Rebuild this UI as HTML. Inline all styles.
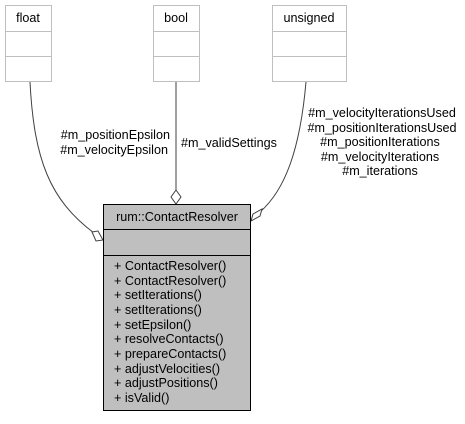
<!DOCTYPE html>
<html><head><style>
html,body{margin:0;padding:0;background:#fff;}
svg text{font-family:"Liberation Sans",Arial,sans-serif;font-size:12.6px;fill:#000;}
</style></head><body>
<svg width="465" height="419" viewBox="0 0 465 419" xmlns="http://www.w3.org/2000/svg">
<g fill="#fff" stroke="#bfbfbf" stroke-width="1">
<rect x="5.5" y="5.5" width="46" height="76"/><line x1="5.5" y1="31.5" x2="51.5" y2="31.5"/><line x1="5.5" y1="56.5" x2="51.5" y2="56.5"/>
<rect x="153.5" y="5.5" width="46" height="76"/><line x1="153.5" y1="31.5" x2="199.5" y2="31.5"/><line x1="153.5" y1="56.5" x2="199.5" y2="56.5"/>
<rect x="272.5" y="5.5" width="74" height="76"/><line x1="272.5" y1="31.5" x2="346.5" y2="31.5"/><line x1="272.5" y1="56.5" x2="346.5" y2="56.5"/>
</g>
<text x="28" y="22" text-anchor="middle">float</text>
<text x="176" y="22" text-anchor="middle">bool</text>
<text x="309" y="22" text-anchor="middle">unsigned</text>
<g fill="none" stroke="#404040" stroke-width="1">
<path d="M30,82 C34,160 50,200 94,233"/>
<path d="M176,82 L176,190"/>
<path d="M306,82 C300,150 285,190 260,212"/>
</g>
<g fill="#fff" stroke="#404040" stroke-width="1">
<polygon points="176,190 181,197 176,204 171,197"/>
<polygon points="92,232 98,231 103,240 96,241"/>
<polygon points="262,209 260,216 251,221 253,214"/>
</g>
<rect x="103.5" y="204.5" width="147" height="206" fill="#bfbfbf" stroke="#000"/>
<line x1="103.5" y1="229.5" x2="250.5" y2="229.5" stroke="#000"/>
<line x1="103.5" y1="255.5" x2="250.5" y2="255.5" stroke="#000"/>
<text x="177" y="221" text-anchor="middle">rum::ContactResolver</text>
<g>
<text x="114" y="270">+ ContactResolver()</text>
<text x="114" y="285">+ ContactResolver()</text>
<text x="114" y="299">+ setIterations()</text>
<text x="114" y="314">+ setIterations()</text>
<text x="114" y="329">+ setEpsilon()</text>
<text x="114" y="343">+ resolveContacts()</text>
<text x="114" y="358">+ prepareContacts()</text>
<text x="114" y="373">+ adjustVelocities()</text>
<text x="114" y="387">+ adjustPositions()</text>
<text x="114" y="402">+ isValid()</text>
</g>
<text x="170" y="139" text-anchor="end">#m_positionEpsilon</text>
<text x="168" y="154" text-anchor="end">#m_velocityEpsilon</text>
<text x="181" y="147">#m_validSettings</text>
<g text-anchor="middle">
<text x="382" y="117">#m_velocityIterationsUsed</text>
<text x="382" y="132">#m_positionIterationsUsed</text>
<text x="380" y="146">#m_positionIterations</text>
<text x="380" y="161">#m_velocityIterations</text>
<text x="380" y="175">#m_iterations</text>
</g>
</svg>
</body></html>
